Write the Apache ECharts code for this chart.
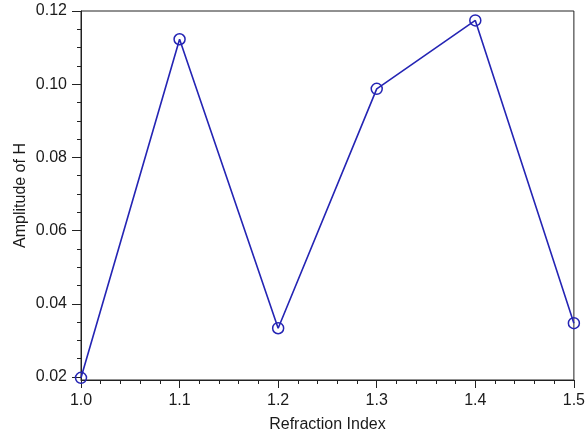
<!DOCTYPE html>
<html>
<head>
<meta charset="utf-8">
<script src="https://cdn.jsdelivr.net/npm/echarts@6/dist/echarts.min.js"></script>
<style>
html,body{margin:0;padding:0;background:#fff;}
#chart{width:588px;height:438px;}
</style>
</head>
<body>
<div id="chart"></div>
<script>
// Data
const refractionIndex = [1.0, 1.1, 1.2, 1.3, 1.4, 1.5];
const amplitudeH = [0.0187, 0.1122, 0.0324, 0.0985, 0.1174, 0.0338];
const xTicks = [1.0, 1.1, 1.2, 1.3, 1.4, 1.5];
const yTicks = [0.02, 0.04, 0.06, 0.08, 0.10, 0.12];
const xName = 'Refraction Index';
const yName = 'Amplitude of H';

const Y_MIN = 0.0181, Y_MAX = 0.12;
const GRID_TOP = 11, GRID_BOTTOM = 54, H = 438;
const plotH = H - GRID_TOP - GRID_BOTTOM;
// pixel of first labelled tick, used for the tick/label grid so ticks align with data scale
const yTickPix = GRID_TOP + (Y_MAX - yTicks[0]) / (Y_MAX - Y_MIN) * plotH;

const font = "'Liberation Sans', Arial, sans-serif";
const textColor = '#1a1a1a';
const axisColor = '#222';
const blue = '#2424b4';

const chart = echarts.init(document.getElementById('chart'), null, {renderer: 'canvas'});
chart.setOption({
  animation: false,
  backgroundColor: '#fff',
  grid: [
    {left: 81, right: 14, top: GRID_TOP, bottom: GRID_BOTTOM, show: true, borderColor: axisColor, borderWidth: 1, backgroundColor: 'transparent'},
    {left: 81, right: 14, top: GRID_TOP, bottom: H - yTickPix}
  ],
  xAxis: [
    {
      type: 'value', gridIndex: 0,
      min: xTicks[0], max: xTicks[xTicks.length - 1], interval: 0.1,
      name: xName, nameLocation: 'middle', nameGap: 37,
      nameTextStyle: {fontFamily: font, fontSize: 16, color: textColor},
      axisLine: {show: true, onZero: false, lineStyle: {color: axisColor, width: 1}},
      axisTick: {show: true, inside: false, length: 8, lineStyle: {color: axisColor, width: 1}},
      minorTick: {show: true, splitNumber: 5, length: 4, lineStyle: {color: axisColor, width: 1}},
      axisLabel: {fontFamily: font, fontSize: 16, color: textColor, margin: 13,
        formatter: v => v.toFixed(1)},
      splitLine: {show: false}
    },
    {type: 'value', gridIndex: 1, min: 0, max: 1, show: false}
  ],
  yAxis: [
    {
      type: 'value', gridIndex: 0, min: Y_MIN, max: Y_MAX,
      name: yName, nameLocation: 'middle', nameGap: 52, nameRotate: 90,
      nameTextStyle: {fontFamily: font, fontSize: 16, color: textColor},
      axisLine: {show: true, onZero: false, lineStyle: {color: axisColor, width: 1}},
      axisTick: {show: false}, axisLabel: {show: false}, splitLine: {show: false}
    },
    {
      type: 'value', gridIndex: 1, min: yTicks[0], max: yTicks[yTicks.length - 1], interval: 0.02,
      axisLine: {show: false},
      axisTick: {show: true, inside: false, length: 9, lineStyle: {color: axisColor, width: 1}},
      minorTick: {show: true, splitNumber: 4, length: 4, lineStyle: {color: axisColor, width: 1}},
      axisLabel: {fontFamily: font, fontSize: 16, color: textColor, margin: 14,
        formatter: v => v.toFixed(2)},
      splitLine: {show: false}
    }
  ],
  series: [{
    type: 'line', xAxisIndex: 0, yAxisIndex: 0,
    data: refractionIndex.map((x, i) => [x, amplitudeH[i]]),
    symbol: 'circle', symbolSize: 11,
    lineStyle: {color: blue, width: 1.6},
    itemStyle: {color: 'rgba(0,0,0,0)', borderColor: blue, borderWidth: 1.5},
    clip: false
  }]
});
</script>
</body>
</html>
